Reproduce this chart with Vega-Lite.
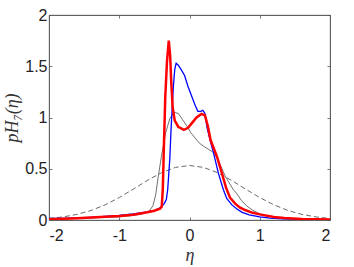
{
  "$schema": "https://vega.github.io/schema/vega-lite/v6.json",
  "width": 281,
  "height": 205,
  "autosize": "none",
  "padding": {"left": 49, "top": 15, "right": 24, "bottom": 47},
  "background": "white",
  "config": {
    "view": {"stroke": "#555", "strokeWidth": 0.8},
    "axis": {
      "grid": false,
      "domainColor": "#555",
      "domainWidth": 0.8,
      "tickColor": "#555",
      "tickWidth": 0.8,
      "tickSize": -3,
      "labelFont": "Liberation Sans",
      "labelFontSize": 16,
      "labelColor": "#222",
      "labelExpr": "datum.value + ''",
      "titleFont": "Liberation Serif",
      "titleFontStyle": "italic",
      "titleFontWeight": "normal",
      "titleFontSize": 18,
      "titleColor": "#333"
    }
  },
  "datasets": {
    "dash": [
      {"x": -2.0, "y": 0.015}, {"x": -1.8, "y": 0.03}, {"x": -1.6, "y": 0.055}, {"x": -1.4, "y": 0.093},
      {"x": -1.2, "y": 0.148}, {"x": -1.0, "y": 0.219}, {"x": -0.8, "y": 0.301}, {"x": -0.6, "y": 0.386},
      {"x": -0.4, "y": 0.461}, {"x": -0.2, "y": 0.513}, {"x": 0.0, "y": 0.532}, {"x": 0.2, "y": 0.513},
      {"x": 0.4, "y": 0.461}, {"x": 0.6, "y": 0.386}, {"x": 0.8, "y": 0.301}, {"x": 1.0, "y": 0.219},
      {"x": 1.2, "y": 0.148}, {"x": 1.4, "y": 0.093}, {"x": 1.6, "y": 0.055}, {"x": 1.8, "y": 0.03},
      {"x": 2.0, "y": 0.015}
    ],
    "gray": [
      {"x": -2.0, "y": 0.01}, {"x": -1.6, "y": 0.015}, {"x": -1.2, "y": 0.025}, {"x": -1.0, "y": 0.03},
      {"x": -0.8, "y": 0.045}, {"x": -0.7, "y": 0.055}, {"x": -0.62, "y": 0.07}, {"x": -0.57, "y": 0.09},
      {"x": -0.52, "y": 0.14}, {"x": -0.48, "y": 0.25}, {"x": -0.45, "y": 0.4}, {"x": -0.4, "y": 0.62},
      {"x": -0.34, "y": 0.85}, {"x": -0.28, "y": 0.99}, {"x": -0.22, "y": 1.05}, {"x": -0.16, "y": 1.04},
      {"x": -0.1, "y": 0.98}, {"x": -0.04, "y": 0.92}, {"x": 0.02, "y": 0.85}, {"x": 0.08, "y": 0.8},
      {"x": 0.14, "y": 0.75}, {"x": 0.2, "y": 0.72}, {"x": 0.27, "y": 0.69}, {"x": 0.34, "y": 0.66},
      {"x": 0.4, "y": 0.6}, {"x": 0.45, "y": 0.52}, {"x": 0.5, "y": 0.44}, {"x": 0.55, "y": 0.38},
      {"x": 0.62, "y": 0.3}, {"x": 0.67, "y": 0.26}, {"x": 0.74, "y": 0.19}, {"x": 0.81, "y": 0.14},
      {"x": 0.9, "y": 0.095}, {"x": 1.0, "y": 0.06}, {"x": 1.1, "y": 0.04}, {"x": 1.2, "y": 0.03},
      {"x": 1.33, "y": 0.018}, {"x": 1.5, "y": 0.012}, {"x": 1.7, "y": 0.008}, {"x": 2.0, "y": 0.005}
    ],
    "blue": [
      {"x": -2.0, "y": 0.015}, {"x": -1.8, "y": 0.016}, {"x": -1.6, "y": 0.02}, {"x": -1.4, "y": 0.026},
      {"x": -1.2, "y": 0.034}, {"x": -1.0, "y": 0.045}, {"x": -0.8, "y": 0.06}, {"x": -0.7, "y": 0.07},
      {"x": -0.6, "y": 0.08}, {"x": -0.5, "y": 0.095}, {"x": -0.44, "y": 0.11}, {"x": -0.4, "y": 0.13},
      {"x": -0.36, "y": 0.16}, {"x": -0.33, "y": 0.2}, {"x": -0.31, "y": 0.3}, {"x": -0.295, "y": 0.45},
      {"x": -0.28, "y": 0.6}, {"x": -0.265, "y": 0.85}, {"x": -0.25, "y": 1.05}, {"x": -0.23, "y": 1.3},
      {"x": -0.21, "y": 1.47}, {"x": -0.19, "y": 1.53}, {"x": -0.16, "y": 1.51}, {"x": -0.12, "y": 1.47},
      {"x": -0.07, "y": 1.41}, {"x": -0.02, "y": 1.3}, {"x": 0.03, "y": 1.21}, {"x": 0.08, "y": 1.12},
      {"x": 0.12, "y": 1.06}, {"x": 0.16, "y": 1.06}, {"x": 0.19, "y": 1.07}, {"x": 0.22, "y": 1.04},
      {"x": 0.25, "y": 0.9}, {"x": 0.3, "y": 0.76}, {"x": 0.34, "y": 0.66}, {"x": 0.41, "y": 0.46},
      {"x": 0.48, "y": 0.3}, {"x": 0.53, "y": 0.21}, {"x": 0.6, "y": 0.15}, {"x": 0.67, "y": 0.11},
      {"x": 0.75, "y": 0.075}, {"x": 0.85, "y": 0.05}, {"x": 1.0, "y": 0.03}, {"x": 1.15, "y": 0.018},
      {"x": 1.33, "y": 0.01}, {"x": 1.6, "y": 0.006}, {"x": 2.0, "y": 0.004}
    ],
    "red": [
      {"x": -2.0, "y": 0.008}, {"x": -1.8, "y": 0.012}, {"x": -1.6, "y": 0.018}, {"x": -1.4, "y": 0.025},
      {"x": -1.2, "y": 0.032}, {"x": -1.0, "y": 0.04}, {"x": -0.8, "y": 0.052}, {"x": -0.7, "y": 0.063},
      {"x": -0.6, "y": 0.075}, {"x": -0.5, "y": 0.09}, {"x": -0.42, "y": 0.11}, {"x": -0.395, "y": 0.13},
      {"x": -0.38, "y": 0.3}, {"x": -0.365, "y": 0.7}, {"x": -0.345, "y": 1.2}, {"x": -0.32, "y": 1.55},
      {"x": -0.295, "y": 1.75}, {"x": -0.275, "y": 1.6}, {"x": -0.26, "y": 1.35}, {"x": -0.24, "y": 1.1},
      {"x": -0.21, "y": 0.97}, {"x": -0.16, "y": 0.91}, {"x": -0.08, "y": 0.88}, {"x": -0.02, "y": 0.9},
      {"x": 0.04, "y": 0.95}, {"x": 0.1, "y": 1.0}, {"x": 0.17, "y": 1.035}, {"x": 0.22, "y": 1.02},
      {"x": 0.26, "y": 0.92}, {"x": 0.3, "y": 0.78}, {"x": 0.39, "y": 0.62}, {"x": 0.46, "y": 0.46},
      {"x": 0.52, "y": 0.315}, {"x": 0.575, "y": 0.22}, {"x": 0.65, "y": 0.16}, {"x": 0.72, "y": 0.12},
      {"x": 0.8, "y": 0.095}, {"x": 0.9, "y": 0.07}, {"x": 1.0, "y": 0.055}, {"x": 1.2, "y": 0.03},
      {"x": 1.35, "y": 0.02}, {"x": 1.6, "y": 0.01}, {"x": 1.8, "y": 0.007}, {"x": 2.0, "y": 0.005}
    ]
  },
  "resolve": {"axis": {"x": "independent", "y": "independent"}},
  "layer": [
    {
      "data": {"name": "dash"},
      "mark": {"type": "line", "color": "#444", "strokeWidth": 0.8, "strokeDash": [5, 3], "clip": true},
      "encoding": {
        "x": {"field": "x", "type": "quantitative", "scale": {"domain": [-2, 2], "nice": false},
          "axis": {"orient": "bottom", "values": [-2, -1, 0, 1, 2], "title": "η", "labelPadding": 10, "titlePadding": 3}},
        "y": {"field": "y", "type": "quantitative", "scale": {"domain": [0, 2], "nice": false},
          "axis": {"orient": "left", "values": [0, 0.5, 1, 1.5, 2], "title": "pH₇(η)", "labelPadding": 5, "titlePadding": 3}}
      }
    },
    {
      "data": {"name": "gray"},
      "mark": {"type": "line", "color": "#333", "strokeWidth": 0.7, "clip": true},
      "encoding": {
        "x": {"field": "x", "type": "quantitative", "scale": {"domain": [-2, 2], "nice": false},
          "axis": {"orient": "top", "values": [-2, -1, 0, 1, 2], "labels": false, "title": null}},
        "y": {"field": "y", "type": "quantitative", "scale": {"domain": [0, 2], "nice": false},
          "axis": {"orient": "right", "values": [0, 0.5, 1, 1.5, 2], "labels": false, "title": null}}
      }
    },
    {
      "data": {"name": "blue"},
      "mark": {"type": "line", "color": "#0000ff", "strokeWidth": 1.3, "clip": true},
      "encoding": {
        "x": {"field": "x", "type": "quantitative", "axis": null},
        "y": {"field": "y", "type": "quantitative", "axis": null}
      }
    },
    {
      "data": {"name": "red"},
      "mark": {"type": "line", "color": "#ff0000", "strokeWidth": 2.5, "clip": true},
      "encoding": {
        "x": {"field": "x", "type": "quantitative", "axis": null},
        "y": {"field": "y", "type": "quantitative", "axis": null}
      }
    }
  ]
}
